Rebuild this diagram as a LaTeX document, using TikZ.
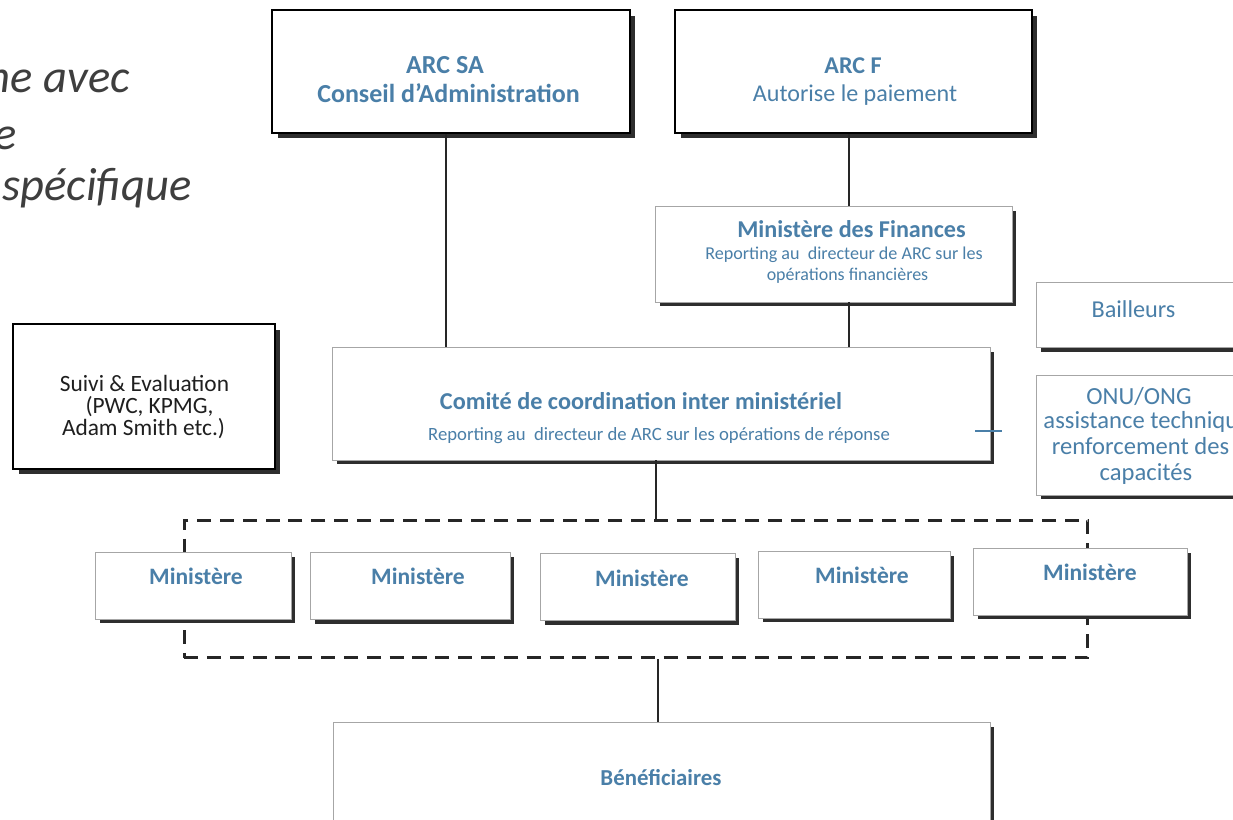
\documentclass[tikz,border=0pt]{standalone}
\usepackage{fontspec}
\setmainfont{Carlito}
\usetikzlibrary{shadows}
\definecolor{arcblue}{HTML}{4A7FA8}
\definecolor{shad}{HTML}{2E2E2E}
\definecolor{titlegray}{HTML}{3E3E3E}
\newcommand\fsz[1]{\fontsize{#1}{1.2\dimexpr #1pt\relax}\selectfont}
\begin{document}
\begin{tikzpicture}[x=0.02cm,y=-0.02cm,
  thickbox/.style={draw=black, line width=1.5pt, fill=white, inner sep=0pt,
    drop shadow={shadow xshift=0.11cm, shadow yshift=-0.11cm, fill=shad, opacity=1}},
  thinbox/.style={draw=black!35, line width=0.5pt, fill=white, inner sep=0pt,
    drop shadow={shadow xshift=0.09cm, shadow yshift=-0.09cm, fill=shad, opacity=1}},
  txt/.style={text=arcblue, inner sep=0pt, anchor=base},
  conn/.style={draw=black!85, line width=1.1pt},
  grpbox/.style={draw=black!85, line width=1.7pt, dash pattern=on 8pt off 5pt, inner sep=0pt},
  titletxt/.style={text=titlegray, font=\itshape\fsz{26.5}, inner sep=0pt, anchor=base east},
  ministere/.style={thinbox, minimum height=1.34cm},
  mintxt/.style={txt, font=\bfseries\fsz{13.4}}
]
\useasboundingbox (0,0) rectangle (1233,820);
\clip (0,0) rectangle (1233,820);

% title fragments
\node[titletxt] (t1) at (130,93) {ne avec};
\node[titletxt] (t2) at (17,150) {e};
\node[titletxt] (t3) at (192,201) {spécifique};

% top boxes
\node[thickbox, minimum width=7.16cm, minimum height=2.46cm] (arcsa) at (451,71.5) {};
\node[txt, font=\bfseries\fsz{14.8}] (arcsat1) at (445,74) {ARC SA};
\node[txt, font=\bfseries\fsz{14.8}] (arcsat2) at (448.5,103) {Conseil d'Administration};

\node[thickbox, minimum width=7.14cm, minimum height=2.46cm] (arcf) at (853.5,71.5) {};
\node[txt, font=\bfseries\fsz{13.7}] (arcft1) at (853,74) {ARC F};
\node[txt, font=\fsz{13.7}] (arcft2) at (855,102) {Autorise le paiement};

\node[thinbox, minimum width=7.14cm, minimum height=1.92cm] (minfin) at (833.5,254) {};
\node[txt, font=\bfseries\fsz{13.75}] (minfint1) at (851.5,238) {Ministère des Finances};
\node[txt, font=\fsz{10.3}] (minfint2) at (844,260) {Reporting au\ \ directeur de ARC sur les};
\node[txt, font=\fsz{10.2}] (minfint3) at (847.5,281) {opérations financières};

% side boxes
\node[thinbox, minimum width=4.06cm, minimum height=1.3cm] (bail) at (1138,315) {};
\node[txt, font=\fsz{13.8}] (bailt) at (1133.5,318) {Bailleurs};

\node[thinbox, minimum width=4.06cm, minimum height=2.4cm] (onu) at (1138,435) {};
\node[txt, font=\fsz{14}] (onut1) at (1139,405) {ONU/ONG};
\node[txt, font=\fsz{14}] (onut2) at (1147,429) {assistance technique};
\node[txt, font=\fsz{14}] (onut3) at (1140.5,455) {renforcement des};
\node[txt, font=\fsz{14}] (onut4) at (1146,480) {capacités};

\node[thickbox, minimum width=5.24cm, minimum height=2.9cm] (suivi) at (144,396.5) {};
\node[txt, text=black!88, font=\fsz{13.3}] (suivit1) at (144.5,392) {Suivi \& Evaluation};
\node[txt, text=black!88, font=\fsz{13.3}] (suivit2) at (149.5,414) {(PWC, KPMG,};
\node[txt, text=black!88, font=\fsz{13.3}] (suivit3) at (143.5,436) {Adam Smith etc.)};

% comite
\node[thinbox, minimum width=13.16cm, minimum height=2.26cm] (comite) at (661,403.5) {};
\node[txt, font=\bfseries\fsz{13.8}] (comitet1) at (641,410) {Comité de coordination inter ministériel};
\node[txt, font=\fsz{10.65}] (comitet2) at (659,440) {Reporting au\ \ directeur de ARC sur les opérations de réponse};
\coordinate (tk1) at (975,431);
\coordinate (tk2) at (1002,431);
\draw[arcblue, line width=0.8pt] (tk1) -- (tk2);

% group of ministries
\node[grpbox, minimum width=18.08cm, minimum height=2.76cm] (grp) at (636,589) {};

\node[ministere, minimum width=3.92cm] (m1) at (193,585.5) {};
\node[mintxt] (m1t) at (196,584) {Ministère};
\node[ministere, minimum width=4.0cm] (m2) at (410,586) {};
\node[mintxt] (m2t) at (418,584) {Ministère};
\node[ministere, minimum width=3.9cm] (m3) at (637.5,587) {};
\node[mintxt] (m3t) at (642,586) {Ministère};
\node[ministere, minimum width=3.84cm] (m4) at (854,584.5) {};
\node[mintxt] (m4t) at (862,583) {Ministère};
\node[ministere, minimum width=4.28cm] (m5) at (1080,581.5) {};
\node[mintxt] (m5t) at (1090,580) {Ministère};

% beneficiaires
\node[thinbox, minimum width=13.14cm, minimum height=2.0cm] (benef) at (661.5,772) {};
\node[txt, font=\bfseries\fsz{13}] (beneft) at (661,785) {Bénéficiaires};

% connector columns
\coordinate (colA) at (446,0);
\coordinate (colB) at (849,0);
\coordinate (colC) at (656,0);
\coordinate (colD) at (658,0);

% connectors
\draw[conn] (arcsa.south -| colA) -- (comite.north -| colA);
\draw[conn] (arcf.south -| colB) -- (minfin.north -| colB);
\draw[conn] (minfin.south -| colB) -- (comite.north -| colB);
\draw[conn] (comite.south -| colC) -- (grp.north -| colC);
\draw[conn] (grp.south -| colD) -- (benef.north -| colD);
\end{tikzpicture}
\end{document}
